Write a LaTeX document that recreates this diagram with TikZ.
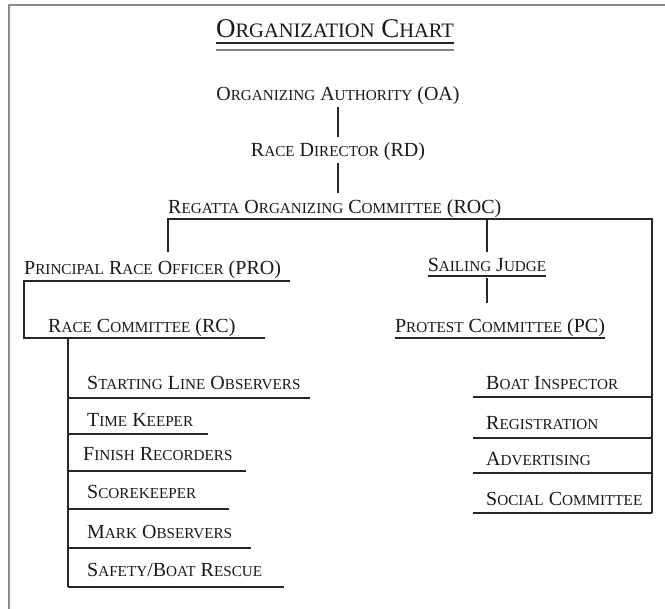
\documentclass[tikz,border=0pt]{standalone}
\usepackage{fontspec}
\setmainfont{Liberation Serif}
\usetikzlibrary{positioning}
\makeatletter
% fake small caps: capitals set at 76% of the current size
\newcommand{\sm}[1]{{\fontsize{\the\dimexpr.76\dimexpr\f@size pt\relax\relax}{0pt}\selectfont #1}}
\makeatother

\begin{document}
\begin{tikzpicture}[x=1pt,y=-1pt,
    txt/.style={inner sep=0pt,anchor=base,text=black!90,font=\fontsize{20}{24}\selectfont},
    bar/.style={line width=1.8pt,black!85},
    rule/.style={line width=2pt,gray}]
    \useasboundingbox (0,0) rectangle (665,609);

    % Frame (left and top edge only)
    \draw[line width=1.6pt,gray!90] (665,5) -- (9,5) -- (9,609);

    % Title
    \node[txt,font=\fontsize{27}{32}\selectfont] (title) at (335,38) {O\sm{RGANIZATION} C\sm{HART}};
    \draw[line width=1.2pt,black!85] ([yshift=-5pt]title.base west) -- ([yshift=-5pt]title.base east);
    \draw[rule] ([yshift=-12pt]title.base west) -- ([yshift=-12pt]title.base east);

    % Top of the chain
    \node[txt] (oa) at (338,101) {O\sm{RGANIZING} A\sm{UTHORITY} (OA)};
    \node[txt] (rd) at (338,157) {R\sm{ACE} D\sm{IRECTOR} (RD)};
    \node[txt,anchor=base west] (roc) at (168,214) {R\sm{EGATTA} O\sm{RGANIZING} C\sm{OMMITTEE} (ROC)};
    \draw[bar,shorten <=2pt,shorten >=6pt] (oa.south) -- (oa.south |- rd.north);
    \draw[bar,shorten <=2pt,shorten >=7pt] (rd.south) -- (rd.south |- roc.north);

    % ROC rail
    \coordinate (roc-l) at (168,219);
    \coordinate (roc-r) at (652,219);
    \coordinate (spine) at (652,513);
    \draw[bar] (roc-l) ++(0,33) -- (roc-l) -- (roc-r) -- (spine);

    % Race side
    \node[txt,anchor=base west] (pro) at (24,275) {P\sm{RINCIPAL} R\sm{ACE} O\sm{FFICER} (PRO)};
    \node[txt,anchor=base west] (rc) at (48,333) {R\sm{ACE} C\sm{OMMITTEE} (RC)};
    \coordinate (pro-l) at (24,281);
    \coordinate (rc-l) at (24,338);
    \coordinate (rc-r) at (265,338);
    \draw[bar] (290,281) -- (pro-l) -- (rc-l) -- (rc-r);
    \coordinate (rc-top) at (68,338);
    \coordinate (rc-end) at (68,587);
    \draw[bar] (rc-top) -- (rc-end);

    \foreach \nm/\tx/\y/\ly/\e/\t in {
        slo/87/390/398/310/{S\sm{TARTING} L\sm{INE} O\sm{BSERVERS}},
        tk/87/427/434/208/{T\sm{IME} K\sm{EEPER}},
        fr/83/461/471/246/{F\sm{INISH} R\sm{ECORDERS}},
        sk/87/499/509/229/{S\sm{COREKEEPER}},
        mo/87/539/548/251/{M\sm{ARK} O\sm{BSERVERS}},
        sbr/87/577/587/284/{S\sm{AFETY}/B\sm{OAT} R\sm{ESCUE}}} {
        \node[txt,anchor=base west] (\nm) at (\tx,\y) {\t};
        \draw[bar] (rc-top |- 0,\ly) -- (\e,\ly);
    }

    % Judge side
    \node[txt] (sj) at (487,272) {S\sm{AILING} J\sm{UDGE}};
    \node[txt] (pc) at (500,333) {P\sm{ROTEST} C\sm{OMMITTEE} (PC)};
    \draw[bar] ([yshift=-4pt]sj.base west) -- ([yshift=-4pt]sj.base east);
    \draw[bar] ([yshift=-5pt]pc.base west) -- ([yshift=-5pt]pc.base east);
    \draw[bar] (sj |- roc-l) -- ++(0,33);
    \draw[bar] (sj.base) ++(0,6) -- ++(0,25);

    % Other functions on the right spine
    \foreach \nm/\y/\ly/\t in {
        bi/390/397/{B\sm{OAT} I\sm{NSPECTOR}},
        reg/430/438/{R\sm{EGISTRATION}},
        adv/466/473/{A\sm{DVERTISING}},
        soc/506/513/{S\sm{OCIAL} C\sm{OMMITTEE}}} {
        \node[txt,anchor=base west] (\nm) at (486,\y) {\t};
        \draw[bar] (473,\ly) -- (spine |- 0,\ly);
    }
\end{tikzpicture}
\end{document}
